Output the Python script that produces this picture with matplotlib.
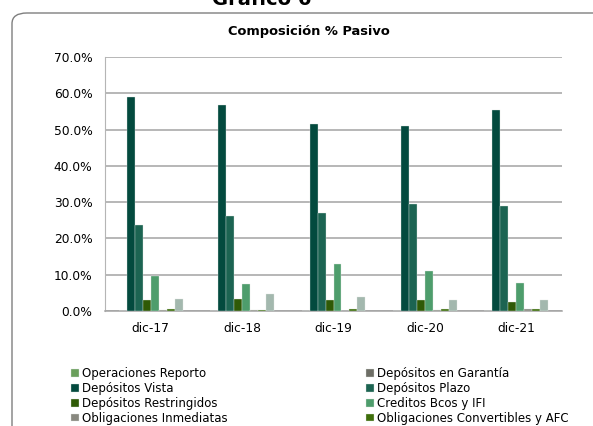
import numpy as np
import matplotlib
matplotlib.use("Agg")
import matplotlib.pyplot as plt
from matplotlib.patches import FancyBboxPatch
from matplotlib.ticker import FuncFormatter

periods = ["dic-17", "dic-18", "dic-19", "dic-20", "dic-21"]

reporto = [0.0, 0.0, 0.0, 0.0, 0.0]
garantia = [0.0, 0.0, 0.0, 0.0, 0.0]
vista = [59.0, 56.8, 51.5, 51.0, 55.5]
plazo = [23.6, 26.1, 27.0, 29.4, 28.8]
restringidos = [2.95, 3.3, 3.1, 2.95, 2.4]
creditos = [9.7, 7.4, 13.0, 11.1, 7.7]
inmediatas = [0.2, 0.4, 0.0, 0.2, 0.65]
convertibles = [0.5, 0.4, 0.5, 0.6, 0.65]
otros = [3.2, 4.7, 3.9, 3.1, 2.9]

# (label, values, colour, slot in group)
series = [
    ("Operaciones Reporto", reporto, "#6a9f5c", 0),
    ("Depósitos en Garantía", garantia, "#6e6e66", 0),
    ("Depósitos Vista", vista, "#034a3e", 1),
    ("Depósitos Plazo", plazo, "#1c6452", 2),
    ("Depósitos Restringidos", restringidos, "#2f5a06", 3),
    ("Creditos Bcos y IFI", creditos, "#4e9d6c", 4),
    ("Obligaciones Inmediatas", inmediatas, "#88887f", 5),
    ("Obligaciones Convertibles y AFC", convertibles, "#3e6e0a", 6),
    ("Otros Pasivos", otros, "#a3b8ae", 7),
]

fig = plt.figure(figsize=(5.93, 4.26), dpi=100)
plt.rcParams['font.family'] = ['DejaVu Sans']

# rounded frame around the chart
frame = FancyBboxPatch((12 / 593, -0.2), 1.2, 1.2 - 13 / 426,
                       boxstyle="round,pad=0,rounding_size=0.025",
                       transform=fig.transFigure, facecolor="white",
                       edgecolor="#7f7f7f", linewidth=1.0, zorder=-1)
fig.patches.append(frame)

fig.text(262 / 593, 1 - 5 / 426, "Gráfico 6", ha="center", va="baseline",
         fontsize=14, fontweight="bold")
fig.text(309 / 593, 1 - 31 / 426, "Composición % Pasivo", ha="center",
         va="center", fontsize=9.4, fontweight="bold")

ax = fig.add_axes([105 / 593, 1 - 311 / 426, 457 / 593, 254 / 426])
ax.set_facecolor("none")
ax.set_zorder(2)

x = np.arange(len(periods))
nslots = 8
w = 0.7 / nslots
handles = {}
for label, vals, color, slot in series:
    pos = x - 0.35 + w * (slot + 0.5)
    b = ax.bar(pos, vals, width=w, color=color, edgecolor="#dfe6e2",
               linewidth=0.25, label=label, zorder=3)
    handles[label] = b

ax.set_xlim(-0.5, len(periods) - 0.5)
ax.set_ylim(0, 70)
ax.set_yticks(np.arange(0, 71, 10))
ax.yaxis.set_major_formatter(FuncFormatter(lambda v, p: f"{v:.1f}%"))
ax.set_xticks(x)
ax.set_xticklabels(periods)
ax.tick_params(axis="both", length=0, labelsize=8.8, colors="black")
ax.tick_params(axis="y", pad=9)
ax.tick_params(axis="x", pad=8)
ax.grid(axis="y", color="#a3a3a3", linewidth=1.1, zorder=0)
for s in ["top", "right"]:
    ax.spines[s].set_visible(False)
ax.spines["left"].set_color("#b5b5b5")
ax.spines["bottom"].set_color("#a3a3a3")
ax.spines["bottom"].set_linewidth(1.1)

# legend: row-major order over two columns
order = ["Operaciones Reporto", "Depósitos Vista", "Depósitos Restringidos",
         "Obligaciones Inmediatas", "Otros Pasivos",
         "Depósitos en Garantía", "Depósitos Plazo", "Creditos Bcos y IFI",
         "Obligaciones Convertibles y AFC"]
leg = fig.legend([handles[k] for k in order], order, ncol=2, frameon=False,
                 loc="upper left", bbox_to_anchor=(71 / 593, 1 - 367 / 426),
                 fontsize=8.5, handlelength=0.65, handleheight=0.65,
                 handletextpad=0.3, labelspacing=0.16, columnspacing=11.7,
                 borderaxespad=0, borderpad=0)
leg.set_zorder(3)

fig.savefig("out.png", dpi=100)
